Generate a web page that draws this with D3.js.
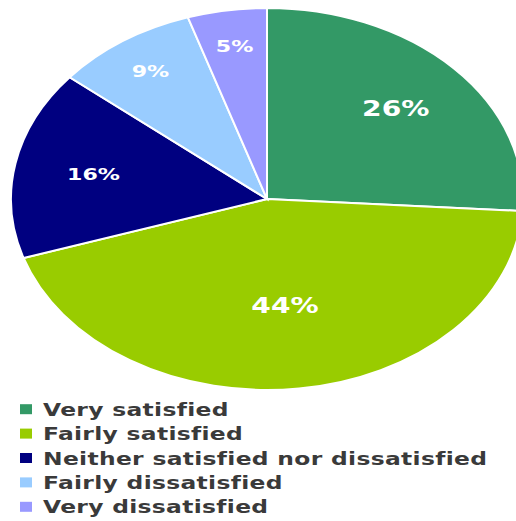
<!DOCTYPE html>
<html><head><meta charset="utf-8">
<script src="https://cdn.jsdelivr.net/npm/d3@7"></script>
<style>html,body{margin:0;padding:0;background:#fff;}svg{display:block;}</style>
</head><body>
<svg id="c" width="516" height="521"></svg>
<script>
const categories = ["Very satisfied","Fairly satisfied","Neither satisfied nor dissatisfied","Fairly dissatisfied","Very dissatisfied"];
const values = [26, 44, 16, 9, 5];
const colors = ["#339966","#99CC00","#000080","#99CCFF","#9999FF"];

const svg = d3.select("#c");
const cx = 267, cy = 199, ry = 191, rx = 256;
const sx = rx / ry;
const pie = d3.pie().sort(null).value(d => d)(values);
const arc = d3.arc().innerRadius(0).outerRadius(ry);

const g = svg.append("g").attr("transform", `translate(${cx},${cy}) scale(${sx},1)`);
g.selectAll("path").data(pie).join("path")
  .attr("d", arc)
  .attr("fill", (d,i) => colors[i])
  .attr("stroke", "#fff")
  .attr("stroke-width", 2)
  .attr("vector-effect", "non-scaling-stroke");

const lr = d => d.value > 40 ? 0.56 : d.value >= 16 ? 0.69 : 0.81;
svg.append("g").selectAll("text").data(pie).join("text")
  .attr("transform", d => {
    const a = (d.startAngle + d.endAngle)/2;
    const x = cx + Math.sin(a) * rx * lr(d);
    const y = cy - Math.cos(a) * ry * lr(d);
    return `translate(${x},${y}) scale(1.34,1)`;
  })
  .attr("dy", "0.36em")
  .attr("text-anchor", "middle")
  .attr("fill", "#fff")
  .attr("font-family", "DejaVu Sans")
  .attr("font-weight", "bold")
  .attr("font-size", d => d.value >= 20 ? 21 : 16.5)
  .text(d => d.value + "%");

const leg = svg.append("g");
const rowY = d3.scaleBand().domain(categories).range([397, 519]);
const items = leg.selectAll("g").data(categories).join("g")
  .attr("transform", d => `translate(0,${rowY(d) + rowY.bandwidth()/2})`);
items.append("rect").attr("x", 20).attr("y", -5).attr("width", 12).attr("height", 10)
  .attr("fill", (d,i) => colors[i]);
items.append("text")
  .attr("transform", "translate(43,6.5) scale(1.3,1)")
  .attr("fill", "#3a3a3a")
  .attr("font-family", "DejaVu Sans")
  .attr("font-weight", "bold")
  .attr("font-size", 18)
  .attr("letter-spacing", 0.25)
  .text(d => d);
</script>
</body></html>
